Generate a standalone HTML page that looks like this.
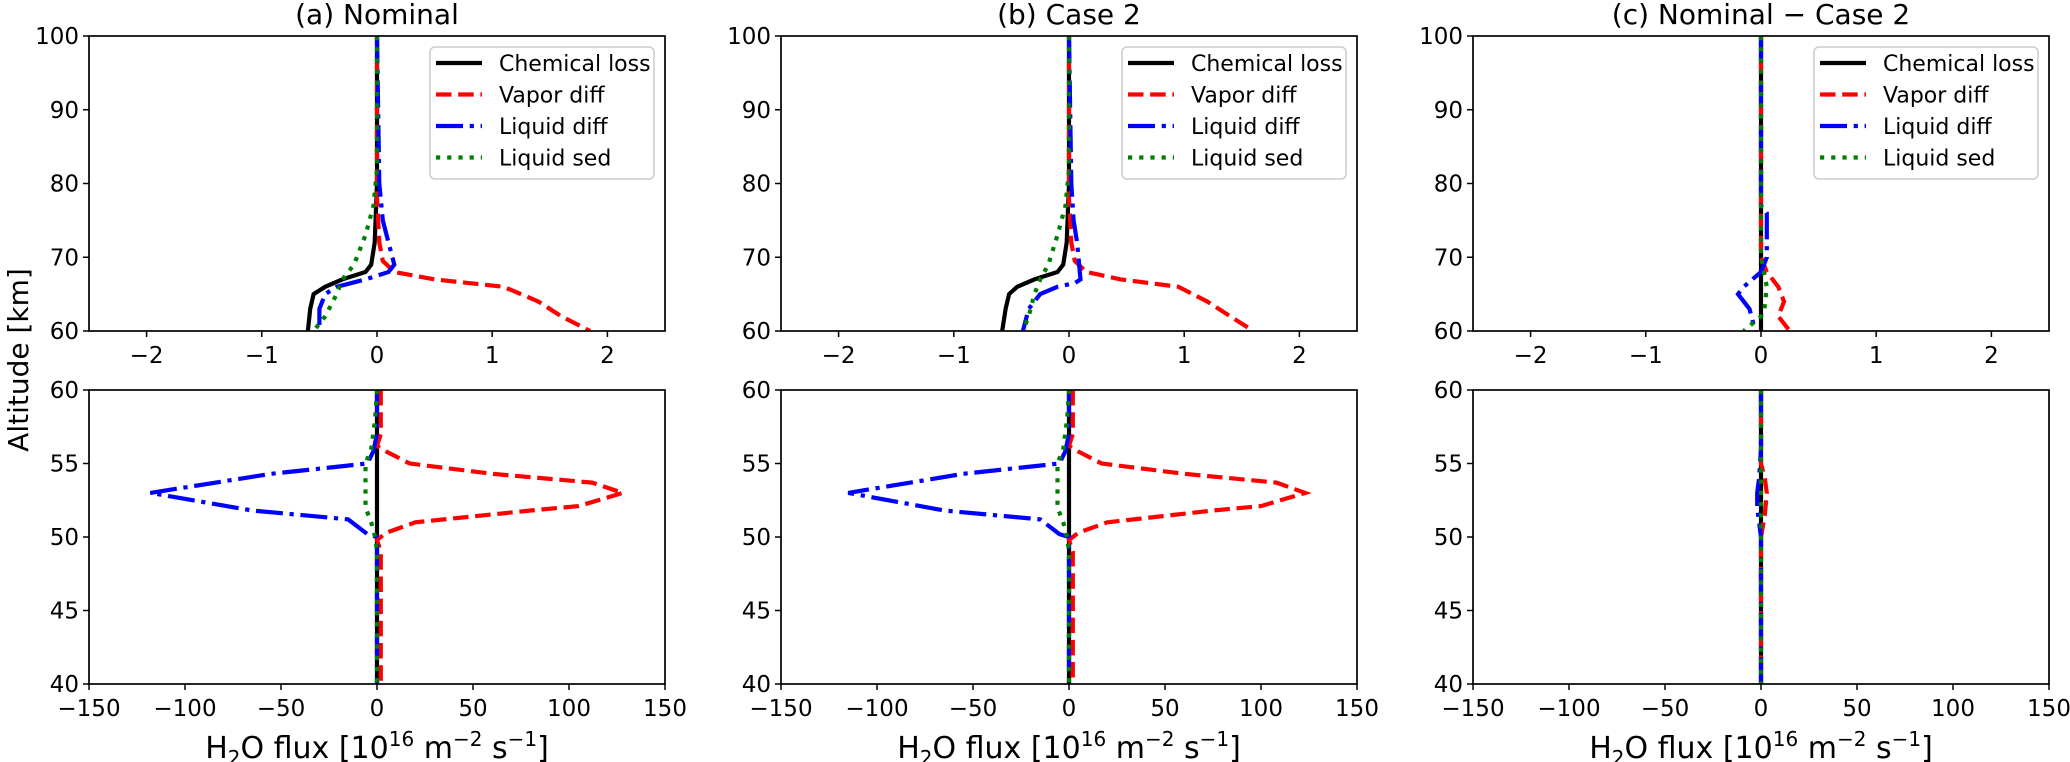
<!DOCTYPE html>
<html><head><meta charset="utf-8"><style>
html,body{margin:0;padding:0;background:#fff;}
svg{display:block;font-family:"DejaVu Sans","Liberation Sans",sans-serif;}
</style></head><body>
<svg id="s" width="2070" height="762" xmlns="http://www.w3.org/2000/svg"></svg>
<script>
const S=document.getElementById('s');let h='';
const X0=[89,781,1473],W=576,TT=36,TB=331,BT=390,BB=684;
const styles={
 c:'stroke="#000" stroke-width="4.2"',
 v:'stroke="#f00" stroke-width="4.2" stroke-dasharray="15.5,6.7"',
 l:'stroke="#00f" stroke-width="4.2" stroke-dasharray="27,6.7,4.2,6.7"',
 s:'stroke="#008000" stroke-width="4.2" stroke-dasharray="4.2,7"'};
function line(pts,st,mx,my){return '<polyline fill="none" '+styles[st]+' points="'+pts.map(p=>mx(p[0]).toFixed(1)+','+my(p[1]).toFixed(1)).join(' ')+'"/>';}
const data=[
 {top:{c:[[0,100],[0,80],[-0.02,72],[-0.05,69],[-0.1,68],[-0.3,67],[-0.45,66],[-0.55,65],[-0.58,63],[-0.6,60]],
  v:[[0,100],[0,78],[0.02,72],[0.05,69.5],[0.15,68],[0.5,67],[1.1,66],[1.4,64],[1.6,62],[1.85,60]],
  l:[[0,100],[0.02,80],[0.05,75],[0.1,72],[0.15,69],[0.1,68],[-0.1,67],[-0.35,66],[-0.45,65],[-0.5,63],[-0.5,60]],
  s:[[0,100],[0,82],[-0.03,77],[-0.1,73],[-0.2,69],[-0.3,67],[-0.35,65],[-0.45,62],[-0.55,60]]},
  bot:{c:[[0,60],[0,40]],
  v:[[2,60],[2,57],[0,56.2],[5,55.8],[17,55],[60,54.3],[112,53.7],[128,53],[105,52.1],[80,51.8],[20,51],[5,50.3],[0,49.8],[2,49],[2,40]],
  l:[[0,60],[0,57],[-2,55.8],[-5,55],[-55,54.3],[-118,53],[-65,51.8],[-15,51.2],[-5,50.2],[0,50],[0,40]],
  s:[[0,60],[-1,58],[-3,56],[-6,55],[-6,52],[-3,51],[-1,50],[0,49],[0,40]]}},
 {top:{c:[[0,100],[0,80],[-0.02,72],[-0.05,69],[-0.1,68],[-0.3,67],[-0.45,66],[-0.52,65],[-0.55,63],[-0.58,60]],
  v:[[0,100],[0,78],[0.02,72],[0.05,69.5],[0.15,68],[0.45,67],[0.95,66],[1.2,64],[1.4,62],[1.6,60]],
  l:[[0,100],[0.02,80],[0.04,75],[0.07,72],[0.1,67],[0.05,66.5],[-0.1,66],[-0.25,65],[-0.35,63],[-0.4,60]],
  s:[[0,100],[0,82],[-0.03,77],[-0.1,73],[-0.18,69],[-0.25,67],[-0.3,65],[-0.35,62],[-0.4,60]]},
  bot:{c:[[0,60],[0,40]],
  v:[[2,60],[2,57],[0,56.2],[5,55.8],[17,55],[60,54.3],[108,53.7],[123,53],[100,52.1],[75,51.8],[20,51],[5,50.3],[0,49.8],[2,49],[2,40]],
  l:[[0,60],[0,57],[-2,55.8],[-5,55],[-55,54.3],[-115,53],[-65,51.8],[-15,51.2],[-5,50.2],[0,50],[0,40]],
  s:[[0,60],[-1,58],[-3,56],[-6,55],[-6,52],[-3,51],[-1,50],[0,49],[0,40]]}},
 {top:{c:[[0,100],[0,60]],
  v:[[0,100],[0,70],[0.05,68],[0.15,66],[0.2,64],[0.15,62],[0.2,61],[0.25,60]],
  l:[[0,100],[0,77],[0.05,76],[0.05,70],[0,68],[-0.15,66],[-0.2,65],[-0.1,63],[-0.05,60]],
  s:[[0,100],[0,70],[0.05,66],[0.03,63],[0,62],[-0.15,60]]},
  bot:{c:[[0,60],[0,40]],
  v:[[0,60],[0,55],[2,54],[3,53],[2,51.5],[0,50],[0,40]],
  l:[[0,60],[0,56],[-1,54],[-2,53],[-2,52],[-1,51],[0,50],[0,40]],
  s:[[0,60],[0,40]]}}];
const titles=['(a) Nominal','(b) Case 2','(c) Nominal \u2212 Case 2'];
const fmt=v=>v<0?'\u2212'+(-v):''+v;
for(let p=0;p<3;p++){
 const x0=X0[p];
 const tx=v=>x0+(v+2.5)*W/5, ty=a=>TT+(100-a)*(TB-TT)/40;
 const bx=v=>x0+(v+150)*W/300, by=a=>BT+(60-a)*(BB-BT)/20;
 h+='<text x="'+(x0+W/2)+'" y="24" font-size="28" text-anchor="middle">'+titles[p]+'</text>';
 for(const k of ['c','v','l','s']){
   h+='<svg x="'+x0+'" y="'+TT+'" width="'+W+'" height="'+(TB-TT)+'" overflow="hidden"><g transform="translate('+(-x0)+','+(-TT)+')">'+line(data[p].top[k],k,tx,ty)+'</g></svg>';
   h+='<svg x="'+x0+'" y="'+BT+'" width="'+W+'" height="'+(BB-BT)+'" overflow="hidden"><g transform="translate('+(-x0)+','+(-BT)+')">'+line(data[p].bot[k],k,bx,by)+'</g></svg>';
 }
 h+='<rect x="'+x0+'" y="'+TT+'" width="'+W+'" height="'+(TB-TT)+'" fill="none" stroke="#000" stroke-width="1.7"/>';
 h+='<rect x="'+x0+'" y="'+BT+'" width="'+W+'" height="'+(BB-BT)+'" fill="none" stroke="#000" stroke-width="1.7"/>';
 for(let v=-2;v<=2;v++){const x=tx(v);h+='<line x1="'+x+'" x2="'+x+'" y1="'+TB+'" y2="'+(TB+6)+'" stroke="#000" stroke-width="1.5"/><text x="'+x+'" y="'+(TB+32)+'" font-size="23" text-anchor="middle">'+fmt(v)+'</text>';}
 for(let v=-150;v<=150;v+=50){const x=bx(v);h+='<line x1="'+x+'" x2="'+x+'" y1="'+BB+'" y2="'+(BB+6)+'" stroke="#000" stroke-width="1.5"/><text x="'+x+'" y="'+(BB+32)+'" font-size="23" text-anchor="middle">'+fmt(v)+'</text>';}
 for(let a=60;a<=100;a+=10){const y=ty(a);h+='<line x1="'+(x0-6)+'" x2="'+x0+'" y1="'+y+'" y2="'+y+'" stroke="#000" stroke-width="1.5"/><text x="'+(x0-10)+'" y="'+(y+8)+'" font-size="23" text-anchor="end">'+a+'</text>';}
 for(let a=40;a<=60;a+=5){const y=by(a);h+='<line x1="'+(x0-6)+'" x2="'+x0+'" y1="'+y+'" y2="'+y+'" stroke="#000" stroke-width="1.5"/><text x="'+(x0-10)+'" y="'+(y+8)+'" font-size="23" text-anchor="end">'+a+'</text>';}
 const lx=x0+W-235, ly=47;
 h+='<rect x="'+lx+'" y="'+ly+'" width="224" height="132" rx="5" fill="#fff" fill-opacity="0.8" stroke="#ccc" stroke-width="1.5"/>';
 const names=[['c','Chemical loss'],['v','Vapor diff'],['l','Liquid diff'],['s','Liquid sed']];
 names.forEach((n,i)=>{const y=ly+16+i*31.5;h+='<line x1="'+(lx+6)+'" x2="'+(lx+52)+'" y1="'+y+'" y2="'+y+'" '+styles[n[0]]+'/><text x="'+(lx+69)+'" y="'+(y+8)+'" font-size="22">'+n[1]+'</text>';});
 h+='<text x="'+(x0+W/2)+'" y="758" font-size="30" text-anchor="middle">H<tspan font-size="20" dy="7">2</tspan><tspan dy="-7">O flux [10</tspan><tspan font-size="20" dy="-12">16</tspan><tspan dy="12"> m</tspan><tspan font-size="20" dy="-12">\u22122</tspan><tspan dy="12"> s</tspan><tspan font-size="20" dy="-12">\u22121</tspan><tspan dy="12">]</tspan></text>';
}
h+='<text transform="translate(28,360) rotate(-90)" font-size="28" text-anchor="middle">Altitude [km]</text>';
S.innerHTML=h;
</script>
</body></html>
